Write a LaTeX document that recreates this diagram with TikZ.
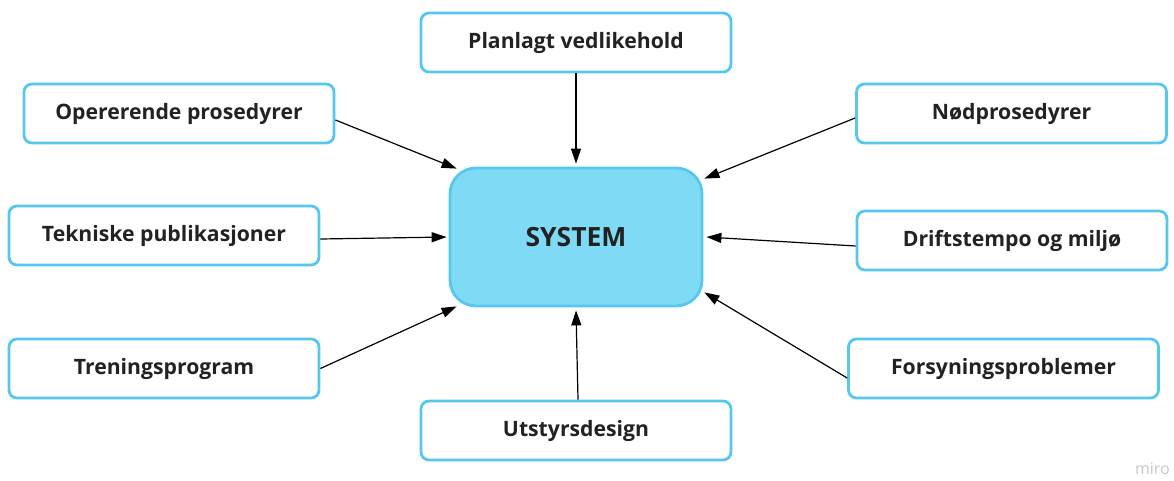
\documentclass[tikz,border=0pt]{standalone}
\usepackage{fontspec}
\setmainfont{Open Sans}
\usetikzlibrary{arrows.meta}
\definecolor{boxline}{HTML}{56C8EE}
\definecolor{sysfill}{HTML}{7FDBF5}
\definecolor{txt}{HTML}{222222}
\definecolor{mark}{HTML}{C8C8CC}
\tikzset{
  factor/.style={draw=boxline, line width=2.8pt, fill=white, rounded corners=8pt,
    minimum width=310pt, minimum height=59pt, inner sep=0pt,
    font=\fontsize{21.2}{24}\selectfont\bfseries, text=txt},
  sysbox/.style={draw=boxline, line width=2.8pt, fill=sysfill, rounded corners=26pt,
    minimum width=252pt, minimum height=138pt, inner sep=0pt,
    font=\fontsize{26.5}{30}\selectfont\bfseries, text=txt},
  feed/.style={draw=black, line width=1.2pt, -{Triangle[length=15pt,width=10pt]}}
}
\begin{document}
\begin{tikzpicture}[x=1pt,y=-1pt]
  \useasboundingbox (0,0) rectangle (1174,480);
  \fill[white] (0,0) rectangle (1174,480);

  \node[sysbox] (sys) at (576,237) {SYSTEM};

  \node[factor] (pl) at (576,42.5)   {Planlagt vedlikehold};
  \node[factor] (op) at (179,113.5)  {Opererende prosedyrer};
  \node[factor] (nd) at (1011.5,113.5) {Nødprosedyrer};
  \node[factor] (tp) at (164,235.5)  {Tekniske publikasjoner};
  \node[factor] (dm) at (1012,240.5) {Driftstempo og miljø};
  \node[factor] (tr) at (164,368.5)  {Treningsprogram};
  \node[factor] (fp) at (1003.5,368.5) {Forsyningsproblemer};
  \node[factor] (ud) at (576,430.5)  {Utstyrsdesign};

  \draw[feed] (pl.south) -- ([shift={(0,-3)}]sys.north);
  \draw[feed] ([shift={(0,6.5)}]op.east) -- ([shift={(8,2)}]sys.north west);
  \draw[feed] ([shift={(0,4.5)}]nd.west) -- ([shift={(1,12)}]sys.north east);
  \draw[feed] ([shift={(0,3.5)}]tp.east) -- ([shift={(-2,0)}]sys.west);
  \draw[feed] ([shift={(0,5.5)}]dm.west) -- ([shift={(3,0)}]sys.east);
  \draw[feed] (tr.east) -- ([shift={(8,-1)}]sys.south west);
  \draw[feed] ([shift={(0,9.5)}]fp.west) -- ([shift={(1,-15)}]sys.south east);
  \draw[feed] ([shift={(2,0)}]ud.north) -- ([shift={(0,3)}]sys.south);

  \node[anchor=base east, text=mark, font=\fontsize{16}{19}\selectfont, inner sep=0pt] (wm) at (1170,474) {miro};
\end{tikzpicture}
\end{document}
